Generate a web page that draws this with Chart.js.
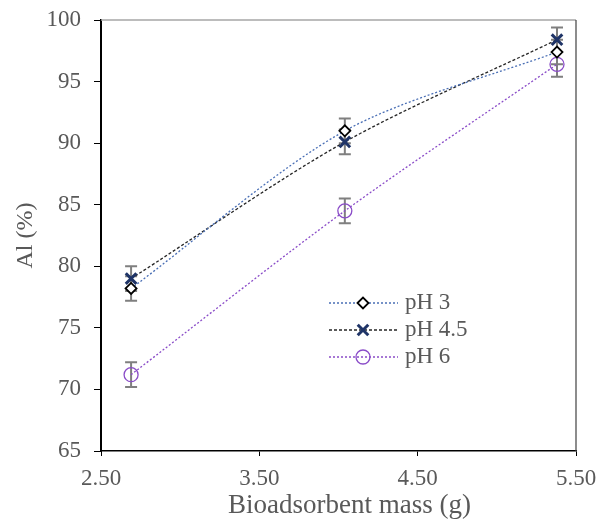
<!DOCTYPE html>
<html>
<head>
<meta charset="utf-8">
<script src="https://cdn.jsdelivr.net/npm/chart.js@4.4.0/dist/chart.umd.min.js"></script>
<style>
  html, body { margin: 0; padding: 0; background: #fff; }
  #wrap { width: 598px; height: 522px; }
</style>
</head>
<body>
<div id="wrap"><canvas id="c" width="598" height="522"></canvas></div>
<script>
// data
const mass = [2.69, 4.04, 5.38];
const ph3 = [78.2, 91.0, 97.4];
const ph45 = [79.0, 90.1, 98.4];
const ph6 = [71.2, 84.5, 96.4];
const err3 = [1.0, 1.0, 1.0];
const err45 = [1.0, 1.0, 1.0];
const err6 = [1.0, 1.0, 1.0];
const xTicks = [2.5, 3.5, 4.5, 5.5];
const seriesNames = ['pH 3', 'pH 4.5', 'pH 6'];
const xTitle = 'Bioadsorbent mass (g)';

const txt = '#595959';
const serif = "'Liberation Serif', 'Times New Roman', serif";

const pts = (ys) => ys.map((y, i) => ({ x: mass[i], y: y }));

// grey frame on top/right of the plot, plus the x title
const framePlugin = {
  id: 'frame',
  beforeDatasetsDraw: (chart) => {
    const { ctx, chartArea: { left, right, top, bottom } } = chart;
    ctx.save();
    ctx.strokeStyle = '#a6a6a6';
    ctx.lineWidth = 1.5;
    ctx.beginPath();
    ctx.moveTo(left, top);
    ctx.lineTo(right, top);
    ctx.stroke();
    ctx.strokeStyle = '#404040';
    ctx.lineWidth = 1.2;
    ctx.beginPath();
    ctx.moveTo(right, top);
    ctx.lineTo(right, bottom);
    ctx.stroke();
    // x axis title, sits a bit right of centre in the original
    ctx.fillStyle = txt;
    ctx.font = '27px ' + serif;
    ctx.textAlign = 'center';
    ctx.textBaseline = 'alphabetic';
    ctx.fillText(xTitle, (left + right) / 2 + 11, 513);
    ctx.restore();
  }
};

// error bars drawn under the markers
const errorBarPlugin = {
  id: 'errorBars',
  beforeDatasetsDraw: (chart) => {
    const { ctx, scales: { x, y } } = chart;
    ctx.save();
    ctx.strokeStyle = '#7f7f7f';
    ctx.lineWidth = 2;
    chart.data.datasets.forEach((ds) => {
      ds.data.forEach((p, i) => {
        const e = ds.errors[i];
        const px = x.getPixelForValue(p.x);
        const y1 = y.getPixelForValue(p.y + e);
        const y2 = y.getPixelForValue(p.y - e);
        ctx.beginPath();
        ctx.moveTo(px, y1); ctx.lineTo(px, y2);
        ctx.moveTo(px - 6, y1); ctx.lineTo(px + 6, y1);
        ctx.moveTo(px - 6, y2); ctx.lineTo(px + 6, y2);
        ctx.stroke();
      });
    });
    ctx.restore();
  }
};

// legend inside the plot: line - marker - line, then label
const legendPlugin = {
  id: 'inLegend',
  afterDatasetsDraw: (chart) => {
    const { ctx } = chart;
    const x0 = 329, x1 = 398, xm = 363, tx = 405;
    const rows = [303, 330, 357];
    ctx.save();
    chart.data.datasets.forEach((ds, i) => {
      const yy = rows[i];
      ctx.strokeStyle = ds.borderColor;
      ctx.lineWidth = ds.borderWidth;
      ctx.setLineDash(ds.borderDash);
      ctx.beginPath();
      ctx.moveTo(x0, yy); ctx.lineTo(x1, yy);
      ctx.stroke();
      ctx.setLineDash([]);
      ctx.fillStyle = ds.pointBackgroundColor;
      ctx.strokeStyle = ds.pointBorderColor;
      ctx.lineWidth = ds.pointBorderWidth;
      Chart.helpers.drawPoint(ctx, {
        pointStyle: ds.pointStyle,
        radius: ds.pointRadius,
        borderWidth: ds.pointBorderWidth,
        rotation: 0
      }, xm, yy);
      ctx.fillStyle = txt;
      ctx.font = '23px ' + serif;
      ctx.textBaseline = 'middle';
      ctx.textAlign = 'left';
      ctx.fillText(seriesNames[i], tx, yy);
    });
    ctx.restore();
  }
};

const ctx = document.getElementById('c').getContext('2d');
new Chart(ctx, {
  type: 'scatter',
  data: {
    datasets: [
      {
        label: seriesNames[0],
        data: pts(ph3),
        errors: err3,
        showLine: true,
        tension: 0.3,
        borderColor: '#4a6fb5',
        borderWidth: 1.3,
        borderDash: [2, 2],
        pointStyle: 'rectRot',
        pointRadius: 5.5,
        pointBorderWidth: 1.8,
        pointBorderColor: '#000000',
        pointBackgroundColor: '#ffffff'
      },
      {
        label: seriesNames[1],
        data: pts(ph45),
        errors: err45,
        showLine: true,
        tension: 0.3,
        borderColor: '#262626',
        borderWidth: 1.3,
        borderDash: [3, 2],
        pointStyle: 'crossRot',
        pointRadius: 7.5,
        pointBorderWidth: 3,
        pointBorderColor: '#1f3467',
        pointBackgroundColor: '#1f3467'
      },
      {
        label: seriesNames[2],
        data: pts(ph6),
        errors: err6,
        showLine: true,
        tension: 0.3,
        borderColor: '#8a4cc8',
        borderWidth: 1.3,
        borderDash: [2, 2],
        pointStyle: 'circle',
        pointRadius: 7,
        pointBorderWidth: 1.3,
        pointBorderColor: '#8a4cc8',
        pointBackgroundColor: 'rgba(255,255,255,0)'
      }
    ]
  },
  options: {
    responsive: false,
    animation: false,
    layout: { padding: { top: 20, right: 22, left: 0, bottom: 0 } },
    plugins: {
      legend: { display: false },
      tooltip: { enabled: false }
    },
    scales: {
      x: {
        type: 'linear',
        min: 2.5,
        max: 5.5,
        afterBuildTicks: (s) => { s.ticks = xTicks.map(v => ({ value: v })); },
        afterFit: (s) => { s.height = 71; s.paddingLeft = 0; s.paddingRight = 0; },
        grid: { drawOnChartArea: false, drawTicks: true, tickLength: 5, color: '#000', lineWidth: 1 },
        border: { display: true, color: '#000', width: 1.5 },
        ticks: {
          color: txt,
          font: { family: serif, size: 23 },
          padding: 9,
          maxRotation: 0,
          callback: (v) => Number(v).toFixed(2)
        },
        title: { display: false }
      },
      y: {
        min: 65,
        max: 100,
        afterFit: (s) => { s.width = 101; s.paddingTop = 0; s.paddingBottom = 0; },
        grid: { drawOnChartArea: false, drawTicks: true, tickLength: 7, color: '#000', lineWidth: 1 },
        border: { display: true, color: '#000', width: 2 },
        ticks: {
          stepSize: 5,
          color: txt,
          font: { family: serif, size: 23 },
          padding: 13
        },
        title: {
          display: true,
          text: 'Al (%)',
          color: txt,
          font: { family: serif, size: 24 },
          padding: { top: 11, bottom: 0 }
        }
      }
    }
  },
  plugins: [framePlugin, errorBarPlugin, legendPlugin]
});
</script>
</body>
</html>
